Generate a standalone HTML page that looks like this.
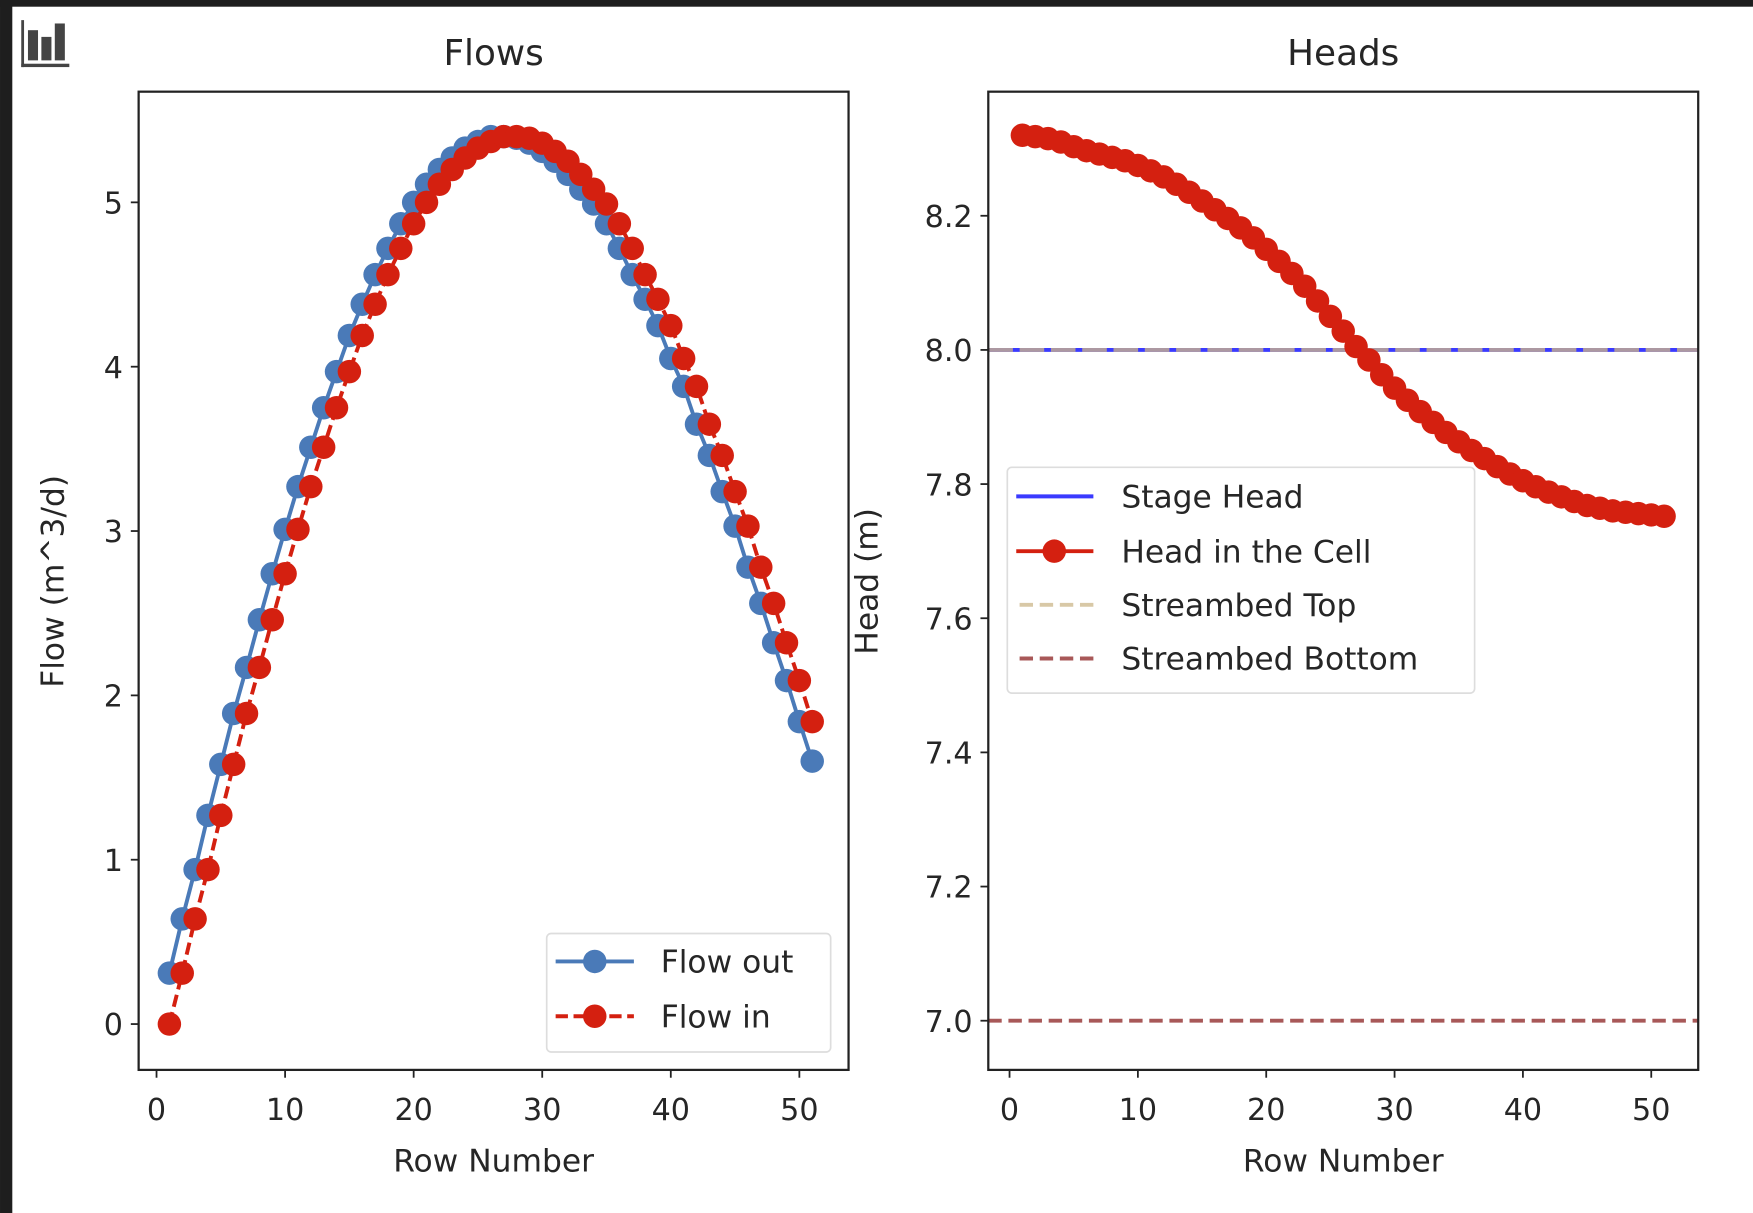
<!DOCTYPE html>
<html><head><meta charset="utf-8"><style>
html,body{margin:0;padding:0;background:#fff;}
svg{display:block;}
text{font-family:"DejaVu Sans","Liberation Sans",sans-serif;fill:#262626;}
</style></head><body>
<svg id="fig" width="1753" height="1213" viewBox="0 0 1568 1085" xmlns="http://www.w3.org/2000/svg">
<rect x="0" y="0" width="1568" height="1085" fill="#fff"/>
<rect x="0" y="0" width="1568" height="6" fill="#1e1e1e"/>
<rect x="0" y="0" width="11" height="1085" fill="#1e1e1e"/>
<g fill="#444">
<rect x="19" y="18" width="2.5" height="42"/><rect x="19" y="57" width="43" height="3"/>
<rect x="25" y="27" width="9" height="27"/><rect x="37" y="33" width="9" height="21"/><rect x="49" y="21" width="9" height="33"/>
</g>
<g id="left"></g>
<g id="right"></g>
</svg>
<script>
const rows = Array.from({length:51},(_,i)=>i+1);
const flowIn = [0,0.31,0.64,0.94,1.27,1.58,1.89,2.17,2.46,2.74,3.01,3.27,3.51,3.75,3.97,4.19,4.38,4.56,4.72,4.87,5.00,5.11,5.20,5.27,5.33,5.37,5.40,5.40,5.39,5.36,5.31,5.25,5.17,5.08,4.99,4.87,4.72,4.56,4.41,4.25,4.05,3.88,3.65,3.46,3.24,3.03,2.78,2.56,2.32,2.09,1.84];
const flowOut = [0.31,0.64,0.94,1.27,1.58,1.89,2.17,2.46,2.74,3.01,3.27,3.51,3.75,3.97,4.19,4.38,4.56,4.72,4.87,5.00,5.11,5.20,5.27,5.33,5.37,5.40,5.40,5.39,5.36,5.31,5.25,5.17,5.08,4.99,4.87,4.72,4.56,4.41,4.25,4.05,3.88,3.65,3.46,3.24,3.03,2.78,2.56,2.32,2.09,1.84,1.60];
const headCell = [8.320,8.318,8.315,8.310,8.303,8.297,8.292,8.287,8.282,8.275,8.267,8.258,8.247,8.235,8.222,8.209,8.196,8.182,8.167,8.150,8.132,8.114,8.095,8.073,8.050,8.028,8.005,7.985,7.963,7.943,7.925,7.908,7.892,7.877,7.863,7.850,7.838,7.826,7.815,7.805,7.796,7.788,7.781,7.774,7.768,7.764,7.760,7.758,7.756,7.754,7.752];
const stageHead = 8.0;
const streambedTop = 8.0;
const streambedBottom = 7.0;
const xTicks = [0,10,20,30,40,50];
const flowTicks = [0,1,2,3,4,5];
const headTicks = [7.0,7.2,7.4,7.6,7.8,8.0,8.2];

const NS="http://www.w3.org/2000/svg";
const R=10.5;
function mk(parent,tag,attrs,txt){const e=document.createElementNS(NS,tag);for(const k in attrs)e.setAttribute(k,attrs[k]);if(txt!==undefined)e.textContent=txt;parent.appendChild(e);return e;}

function axes(g,x0,x1,y0,y1,xs,ys,yt,fmt,title,ylab,ylabX){
  mk(g,'rect',{x:x0,y:y0,width:x1-x0,height:y1-y0,fill:'none',stroke:'#222','stroke-width':2});
  for(const t of xTicks){const px=xs(t);
    mk(g,'line',{x1:px,x2:px,y1:y1,y2:y1+7,stroke:'#222','stroke-width':1.6});
    const tx=mk(g,'text',{x:px,y:y1+45,'text-anchor':'middle','font-size':27},String(t));
    
    }
  for(const t of yt){const py=ys(t);
    mk(g,'line',{x1:x0-7,x2:x0,y1:py,y2:py,stroke:'#222','stroke-width':1.6});
    const tx=mk(g,'text',{x:x0-14,y:py+10,'text-anchor':'end','font-size':27},fmt(t));
    
    }
  const tt=mk(g,'text',{x:(x0+x1)/2,y:y0-24,'text-anchor':'middle','font-size':32},title);
  
  
  const xl=mk(g,'text',{x:(x0+x1)/2,y:1048,'text-anchor':'middle','font-size':28},'Row Number');
  
  
  const yl=mk(g,'text',{x:0,y:0,'text-anchor':'middle','font-size':28,transform:`translate(${ylabX},520) rotate(-90)`},ylab);
  
  
}
function line(g,xs,ys,xv,yv,attrs){return mk(g,'polyline',Object.assign({points:xv.map((x,i)=>xs(x)+','+ys(yv[i])).join(' '),fill:'none'},attrs));}
function dots(g,xs,ys,xv,yv,fill,name){for(let i=0;i<xv.length;i++){const c=mk(g,'circle',{cx:xs(xv[i]),cy:ys(yv[i]),r:R,fill:fill});
  
  }}

(function(){
const g=document.getElementById('left');
const xs=v=>140+v*11.5, ys=v=>916-v*147;
const lo=mk(g,'g',{});


line(lo,xs,ys,rows,flowOut,{stroke:'#4a7ab8','stroke-width':3.5});
dots(lo,xs,ys,rows,flowOut,'#4a7ab8','flow-out-point');
const li=mk(g,'g',{});


line(li,xs,ys,rows,flowIn,{stroke:'#d42010','stroke-width':3.5,'stroke-dasharray':'11,5'});
dots(li,xs,ys,rows,flowIn,'#d42010','flow-in-point');
axes(g,124,759,82,957,xs,ys,flowTicks,t=>String(t),'Flows','Flow (m^3/d)',57);
const lg=mk(g,'g',{});


mk(lg,'rect',{x:489,y:835,width:254,height:106,rx:4,fill:'#fff','fill-opacity':0.85,stroke:'#ddd','stroke-width':1.5});
mk(lg,'line',{x1:497,x2:567,y1:860,y2:860,stroke:'#4a7ab8','stroke-width':3.5});
mk(lg,'circle',{cx:532,cy:860,r:R,fill:'#4a7ab8'});
mk(lg,'text',{x:591,y:870,'font-size':28},'Flow out');
mk(lg,'line',{x1:497,x2:567,y1:909,y2:909,stroke:'#d42010','stroke-width':3.5,'stroke-dasharray':'11,5'});
mk(lg,'circle',{cx:532,cy:909,r:R,fill:'#d42010'});
mk(lg,'text',{x:591,y:919,'font-size':28},'Flow in');
})();

(function(){
const g=document.getElementById('right');
const xs=v=>903+v*11.48, ys=v=>913-(v-7)*600;
const x0=884,x1=1519;
const sh=mk(g,'line',{x1:x0,x2:x1,y1:ys(stageHead),y2:ys(stageHead),stroke:'#3a3aff','stroke-width':3.5});


const st=mk(g,'line',{x1:x0,x2:x1,y1:ys(streambedTop),y2:ys(streambedTop),stroke:'#c9b08a','stroke-opacity':0.8,'stroke-width':3.5,'stroke-dasharray':'22,6'});


const sb=mk(g,'line',{x1:x0,x2:x1,y1:ys(streambedBottom),y2:ys(streambedBottom),stroke:'#a85858','stroke-width':3.5,'stroke-dasharray':'12,6'});


const hc=mk(g,'g',{});


line(hc,xs,ys,rows,headCell,{stroke:'#d42010','stroke-width':3.5});
dots(hc,xs,ys,rows,headCell,'#d42010','head-cell-point');
axes(g,x0,x1,82,957,xs,ys,headTicks,t=>t.toFixed(1),'Heads','Head (m)',785);
const lg=mk(g,'g',{});


mk(lg,'rect',{x:901,y:418,width:418,height:202,rx:4,fill:'#fff','fill-opacity':0.85,stroke:'#ddd','stroke-width':1.5});
mk(lg,'line',{x1:909,x2:978,y1:444,y2:444,stroke:'#3a3aff','stroke-width':3.5});
mk(lg,'text',{x:1003,y:454,'font-size':28},'Stage Head');
mk(lg,'line',{x1:909,x2:978,y1:493,y2:493,stroke:'#d42010','stroke-width':3.5});
mk(lg,'circle',{cx:943,cy:493,r:R,fill:'#d42010'});
mk(lg,'text',{x:1003,y:503,'font-size':28},'Head in the Cell');
mk(lg,'line',{x1:912,x2:978,y1:541,y2:541,stroke:'#d8c8a6','stroke-width':3.5,'stroke-dasharray':'12,6'});
mk(lg,'text',{x:1003,y:551,'font-size':28},'Streambed Top');
mk(lg,'line',{x1:912,x2:978,y1:589,y2:589,stroke:'#a85858','stroke-width':3.5,'stroke-dasharray':'12,6'});
mk(lg,'text',{x:1003,y:599,'font-size':28},'Streambed Bottom');
})();
</script>
</body></html>
